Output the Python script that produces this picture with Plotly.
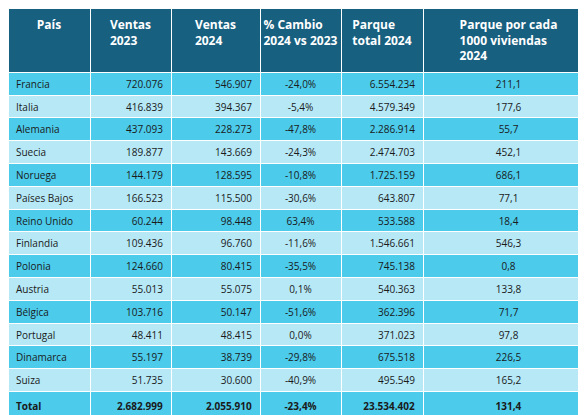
import plotly.graph_objects as go

paises = ["Francia", "Italia", "Alemania", "Suecia", "Noruega", "Países Bajos", "Reino Unido",
          "Finlandia", "Polonia", "Austria", "Bélgica", "Portugal", "Dinamarca", "Suiza", "<b>Total</b>"]
ventas_2023 = ["720.076", "416.839", "437.093", "189.877", "144.179", "166.523", "60.244",
               "109.436", "124.660", "55.013", "103.716", "48.411", "55.197", "51.735", "<b>2.682.999</b>"]
ventas_2024 = ["546.907", "394.367", "228.273", "143.669", "128.595", "115.500", "98.448",
               "96.760", "80.415", "55.075", "50.147", "48.415", "38.739", "30.600", "<b>2.055.910</b>"]
cambio = ["-24,0%", "-5,4%", "-47,8%", "-24,3%", "-10,8%", "-30,6%", "63,4%",
          "-11,6%", "-35,5%", "0,1%", "-51,6%", "0,0%", "-29,8%", "-40,9%", "<b>-23,4%</b>"]
parque = ["6.554.234", "4.579.349", "2.286.914", "2.474.703", "1.725.159", "643.807", "533.588",
          "1.546.661", "745.138", "540.363", "362.396", "371.023", "675.518", "495.549", "<b>23.534.402</b>"]
por_mil = ["211,1", "177,6", "55,7", "452,1", "686,1", "77,1", "18,4",
           "546,3", "0,8", "133,8", "71,7", "97,8", "226,5", "165,2", "<b>131,4</b>"]

headers = ["<b>País</b>", "<b>Ventas<br>2023</b>", "<b>Ventas<br>2024</b>",
           "<b>% Cambio<br>2024 vs 2023</b>", "<b>Parque<br>total 2024</b>",
           "<b>Parque por cada<br>1000 viviendas<br>2024</b>"]

dark = "#4ccbeb"
light = "#b6e8f6"
row_colors = [dark if i % 2 == 0 else light for i in range(len(paises))]

fig = go.Figure(go.Table(
    columnwidth=[82, 81, 89, 81, 82, 171],
    header=dict(values=headers, fill_color="#17607f", line=dict(color="white", width=1),
                align="center", height=62,
                font=dict(family="Open Sans", size=12, color="white")),
    cells=dict(values=[paises, ventas_2023, ventas_2024, cambio, parque, por_mil],
               fill_color=[row_colors] * 6, line=dict(color="white", width=1),
               align=["left", "right", "right", "center", "right", "center"],
               height=22.8,
               font=dict(family="Open Sans", size=10, color="#1a1a1a")),
))
fig.update_layout(width=586, height=415, margin=dict(l=0, r=0, t=0, b=0),
                  paper_bgcolor="white")
fig.write_html("out.html")
